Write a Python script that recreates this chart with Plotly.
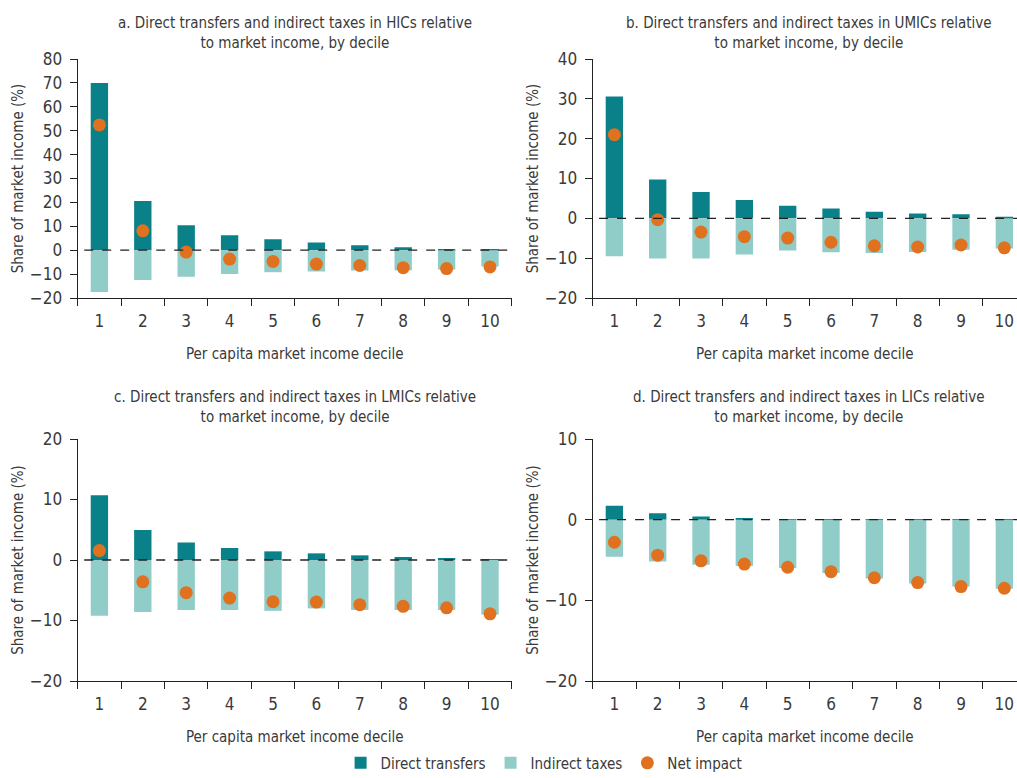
import plotly.graph_objects as go
from plotly.subplots import make_subplots

deciles = ["1", "2", "3", "4", "5", "6", "7", "8", "9", "10"]

# Panel a: HICs
hic_direct = [70.0, 20.6, 10.4, 6.3, 4.6, 3.2, 2.1, 1.25, 0.55, 0.1]
hic_indirect = [-17.5, -12.5, -11.1, -10.0, -9.2, -8.9, -8.5, -8.4, -8.1, -6.8]
hic_net = [52.4, 8.1, -0.8, -3.7, -4.7, -5.8, -6.4, -7.3, -7.7, -7.0]

# Panel b: UMICs
umic_direct = [30.6, 9.75, 6.6, 4.6, 3.15, 2.5, 1.65, 1.2, 1.05, 0.4]
umic_indirect = [-9.55, -10.1, -10.1, -9.1, -8.1, -8.5, -8.7, -8.45, -7.9, -7.6]
umic_net = [21.0, -0.35, -3.45, -4.6, -4.95, -6.0, -6.9, -7.2, -6.7, -7.4]

# Panel c: LMICs
lmic_direct = [10.7, 4.96, 2.9, 2.0, 1.43, 1.1, 0.77, 0.5, 0.33, 0.1]
lmic_indirect = [-9.2, -8.6, -8.26, -8.26, -8.4, -8.0, -8.26, -8.26, -8.26, -9.0]
lmic_net = [1.55, -3.6, -5.4, -6.3, -6.9, -6.95, -7.4, -7.65, -7.9, -8.9]

# Panel d: LICs
lic_direct = [1.74, 0.8, 0.4, 0.2, 0.08, 0.05, 0.02, 0.01, 0.01, 0.01]
lic_indirect = [-4.6, -5.2, -5.6, -5.75, -6.0, -6.6, -7.3, -7.9, -8.3, -8.55]
lic_net = [-2.8, -4.4, -5.1, -5.5, -5.9, -6.45, -7.2, -7.8, -8.3, -8.5]

titles = [
    "a. Direct transfers and indirect taxes in HICs relative<br>to market income, by decile",
    "b. Direct transfers and indirect taxes in UMICs relative<br>to market income, by decile",
    "c. Direct transfers and indirect taxes in LMICs relative<br>to market income, by decile",
    "d. Direct transfers and indirect taxes in LICs relative<br>to market income, by decile",
]
y_ranges = [(-20, 80), (-20, 40), (-20, 20), (-20, 10)]
y_ticks = [list(range(-20, 81, 10)), list(range(-20, 41, 10)), [-20, -10, 0, 10, 20], [-20, -10, 0, 10]]

panels = [
    (hic_direct, hic_indirect, hic_net),
    (umic_direct, umic_indirect, umic_net),
    (lmic_direct, lmic_indirect, lmic_net),
    (lic_direct, lic_indirect, lic_net),
]

C_DIRECT = "#0A8189"
C_INDIRECT = "#90CCC8"
C_NET = "#E0711F"
TXT = "#3a3a3a"
FONT = "Liberation Sans Narrow, DejaVu Sans Condensed, Roboto, sans-serif"

W, H = 1017, 778
fig = make_subplots(rows=2, cols=2)

# pixel geometry
x_px = [(77.7, 511.7), (592.7, 1026.0), (77.7, 511.7), (592.7, 1026.0)]
y_px = [(59, 298), (59, 298), (439, 681), (439, 681)]
title_y = [12, 12, 386, 386]

for i, (d, ind, net) in enumerate(panels):
    r, c = i // 2 + 1, i % 2 + 1
    show = i == 0
    fig.add_trace(go.Bar(x=deciles, y=d, name="Direct transfers", marker_color=C_DIRECT,
                         marker_line_width=0, width=0.4, showlegend=show, legendgroup="d"), row=r, col=c)
    fig.add_trace(go.Bar(x=deciles, y=ind, name="Indirect taxes", marker_color=C_INDIRECT,
                         marker_line_width=0, width=0.4, showlegend=show, legendgroup="i"), row=r, col=c)
    fig.add_trace(go.Scatter(x=deciles, y=net, name="Net impact", mode="markers",
                             marker=dict(color=C_NET, size=13, symbol="circle"),
                             showlegend=show, legendgroup="n"), row=r, col=c)

    x0, x1 = x_px[i]
    clip = max(0.0, x1 - W)
    x1c = min(x1, W)
    band = (x1 - x0) / 10.0
    xr = [-0.5, 9.5 - clip / band]
    y0, y1 = y_px[i]
    sfx = "" if i == 0 else str(i + 1)
    fig.layout["xaxis" + sfx].update(
        domain=[x0 / W, x1c / W], type="category", range=xr, automargin=False,
        showline=True, linecolor="#222", linewidth=1.3,
        ticks="outside", tickson="boundaries", ticklen=7, tickcolor="#222", tickwidth=1.3,
        ticklabelstandoff=7,
        tickfont=dict(size=17, color=TXT, family=FONT),
        title=dict(text="Per capita market income decile", font=dict(size=15, color=TXT, family=FONT), standoff=18),
        showgrid=False, zeroline=False, fixedrange=True,
    )
    lo, hi = y_ranges[i]
    fig.layout["yaxis" + sfx].update(
        domain=[1 - y1 / H, 1 - y0 / H], range=[lo, hi], automargin=False,
        tickvals=y_ticks[i],
        showline=True, linecolor="#222", linewidth=1.3,
        ticks="outside", ticklen=7, tickcolor="#222", tickwidth=1.3,
        ticklabelstandoff=4,
        tickfont=dict(size=17, color=TXT, family=FONT),
        title=dict(text="Share of market income (%)", font=dict(size=15, color=TXT, family=FONT), standoff=2),
        showgrid=False, zeroline=False, fixedrange=True,
    )
    xref = "x" + sfx
    yref = "y" + sfx
    fig.add_shape(type="line", xref=xref + " domain", yref=yref, x0=0.015, x1=1, y0=0, y1=0,
                  line=dict(color="#222", width=1.3, dash="dash"))
    fig.add_annotation(text=titles[i], xref="paper", yref="paper",
                       x=((x0 + x1) / 2) / W, y=1 - title_y[i] / H, xanchor="center", yanchor="top",
                       showarrow=False, align="center",
                       font=dict(size=15, color=TXT, family=FONT))

fig.update_layout(
    width=W, height=H, barmode="relative", bargap=0.6,
    margin=dict(l=0, r=0, t=0, b=0, autoexpand=False),
    paper_bgcolor="white", plot_bgcolor="white",
    font=dict(family=FONT, color=TXT),
    legend=dict(orientation="h", x=0.535, xanchor="center", y=-0.002, yanchor="bottom",
                font=dict(size=15, color=TXT, family=FONT), itemwidth=30, traceorder="normal"),
)

fig.write_html("out.html", config={"displayModeBar": False},
               post_script="document.body.style.margin='0px';document.body.style.overflow='hidden';")
